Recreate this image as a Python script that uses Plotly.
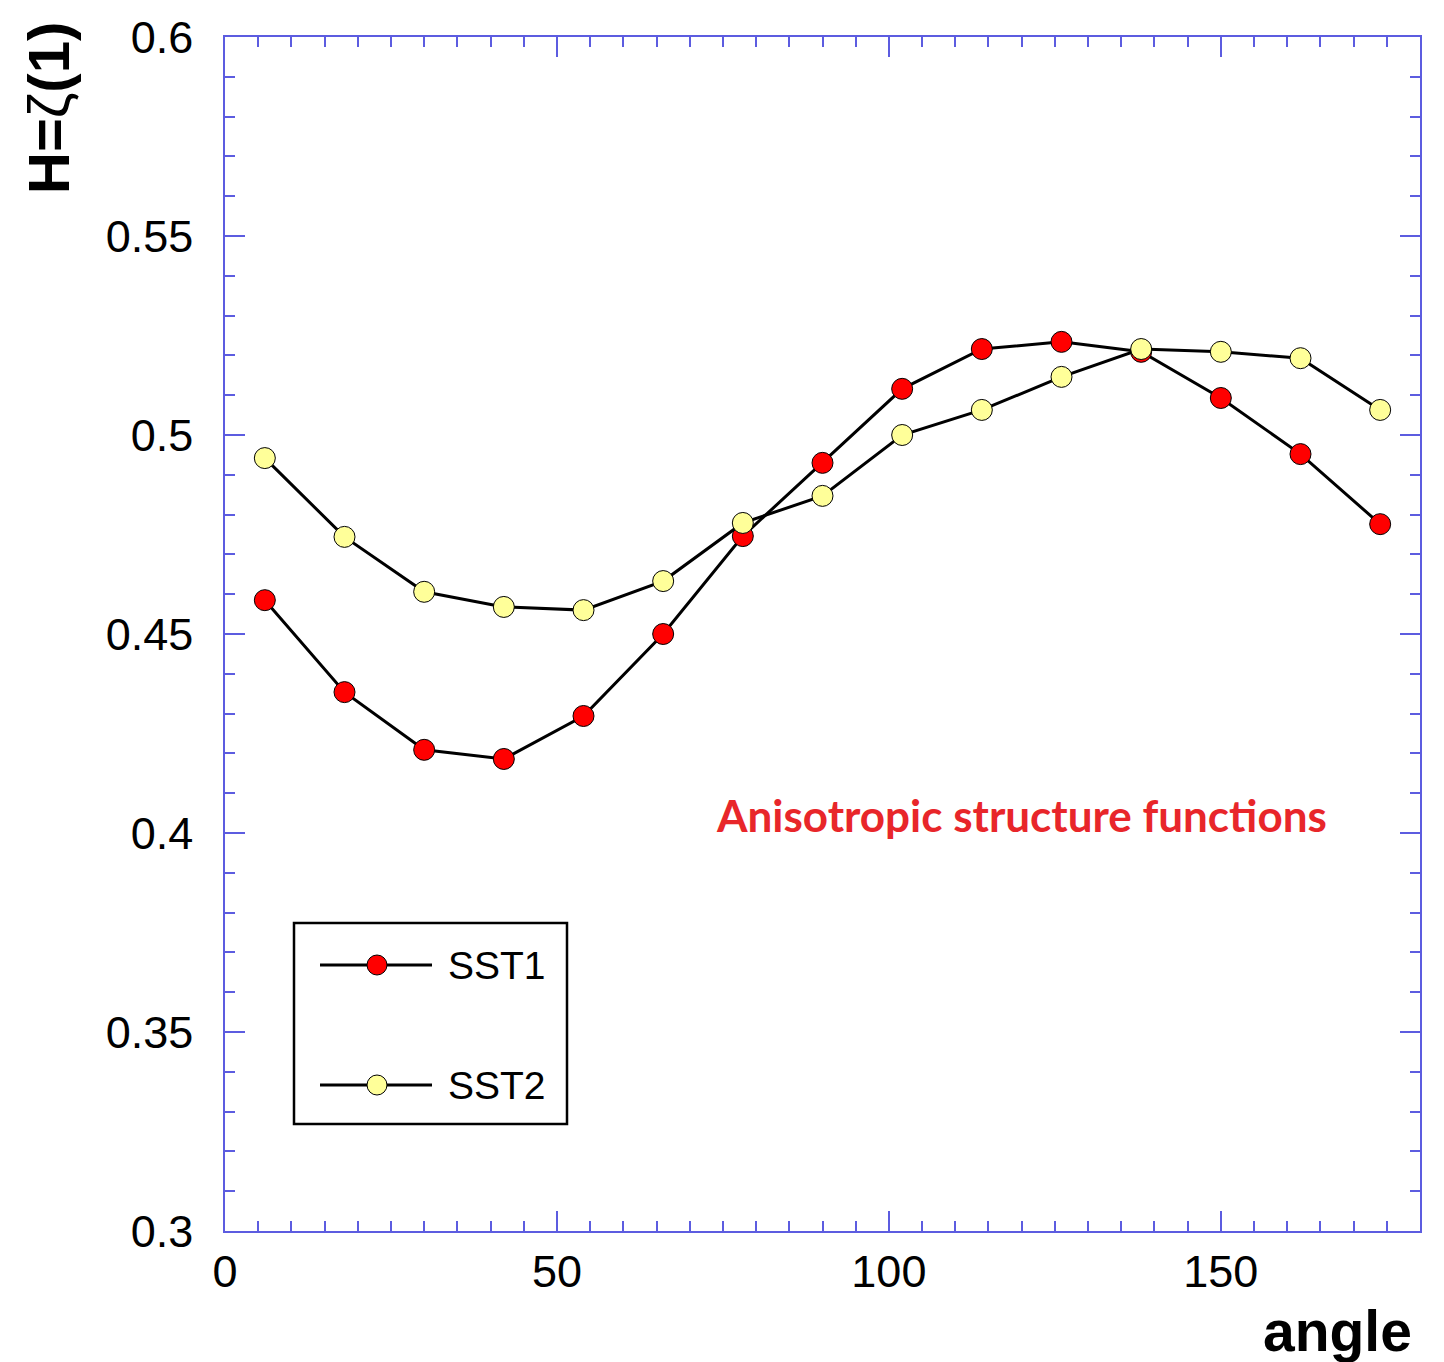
import plotly.graph_objects as go

angles = [6, 18, 30, 42, 54, 66, 78, 90, 102, 114, 126, 138, 150, 162, 174]
sst1 = [0.4585, 0.4354, 0.4209, 0.4186, 0.4294, 0.4500, 0.4746, 0.4930, 0.5116,
        0.5216, 0.5234, 0.5209, 0.5093, 0.4952, 0.4776]
sst2 = [0.4942, 0.4744, 0.4606, 0.4568, 0.4560, 0.4633, 0.4779, 0.4847, 0.5000,
        0.5063, 0.5146, 0.5216, 0.5209, 0.5193, 0.5063]
series_names = ["SST1", "SST2"]
series_colors = ["#ff0000", "#ffff99"]

AX = "#5c5ce0"
fig = go.Figure()
for name, vals, col in zip(series_names, [sst1, sst2], series_colors):
    fig.add_trace(go.Scatter(
        x=angles, y=vals, mode="lines+markers", name=name,
        line=dict(color="black", width=3),
        marker=dict(size=21, color=col, line=dict(color="black", width=1)),
        showlegend=False, cliponaxis=False))

# page body has an 8px margin; compensate so the plot area lands at 225..1420 x 37..1231
fig.update_layout(
    width=1444, height=1362,
    margin=dict(l=217, r=32, t=29, b=139),
    plot_bgcolor="white", paper_bgcolor="white",
    font=dict(family="Arial, Liberation Sans, sans-serif", color="black"),
)
fig.update_xaxes(
    range=[0, 180], dtick=50, tick0=0, showgrid=False, zeroline=False, automargin=False,
    showline=True, linecolor=AX, linewidth=1.5, mirror="ticks",
    ticks="inside", ticklen=20, tickcolor=AX, tickwidth=1.5,
    tickfont=dict(size=45), ticklabelstandoff=0,
    minor=dict(dtick=5, ticks="inside", ticklen=10, tickcolor=AX, tickwidth=1.5, showgrid=False),
)
fig.update_yaxes(
    range=[0.3, 0.6], dtick=0.05, tick0=0.3, showgrid=False, zeroline=False, automargin=False,
    showline=True, linecolor=AX, linewidth=1.5, mirror="ticks",
    ticks="inside", ticklen=20, tickcolor=AX, tickwidth=1.5,
    tickfont=dict(size=45), ticklabelstandoff=21,
    minor=dict(dtick=0.01, ticks="inside", ticklen=10, tickcolor=AX, tickwidth=1.5, showgrid=False),
)

def px_x(p):
    return (p - 225) / 1195

def px_y(p):
    return (1231 - p) / 1194

annotations = [
    dict(text="<b>angle</b>", x=px_x(1414), y=px_y(1331), xref="paper", yref="paper",
         xanchor="right", yanchor="middle", showarrow=False, font=dict(size=57, color="black")),
    dict(text="<b>H=</b>ζ<b>(1)</b>", x=px_x(48), y=px_y(108), xref="paper", yref="paper",
         xanchor="center", yanchor="middle", textangle=-90, showarrow=False,
         font=dict(size=58, color="black")),
    dict(text="<b>Anisotropic structure functions</b>", x=px_x(1021), y=px_y(815),
         xref="paper", yref="paper", xanchor="center", yanchor="middle", showarrow=False,
         font=dict(size=44, color="#e8262a", family="Lato, Open Sans, sans-serif")),
]

shapes = [dict(type="rect", xref="paper", yref="paper", x0=px_x(294), x1=px_x(567),
               y0=px_y(1124), y1=px_y(923), line=dict(color="black", width=2.5),
               fillcolor="white", layer="above")]
for name, col, py in zip(series_names, series_colors, [965, 1085]):
    shapes.append(dict(type="line", xref="paper", yref="paper", x0=px_x(320), x1=px_x(432),
                       y0=px_y(py), y1=px_y(py), line=dict(color="black", width=3), layer="above"))
    shapes.append(dict(type="circle", xref="paper", yref="paper", xsizemode="pixel", ysizemode="pixel",
                       xanchor=px_x(377), yanchor=px_y(py), x0=-10, x1=10, y0=-10, y1=10,
                       fillcolor=col, line=dict(color="black", width=1), layer="above"))
    annotations.append(dict(text=name, x=px_x(446), y=px_y(py), xref="paper", yref="paper",
                            xanchor="left", yanchor="middle", showarrow=False,
                            font=dict(size=39, color="black")))

fig.update_layout(shapes=shapes, annotations=annotations)
fig.write_html("out.html")
